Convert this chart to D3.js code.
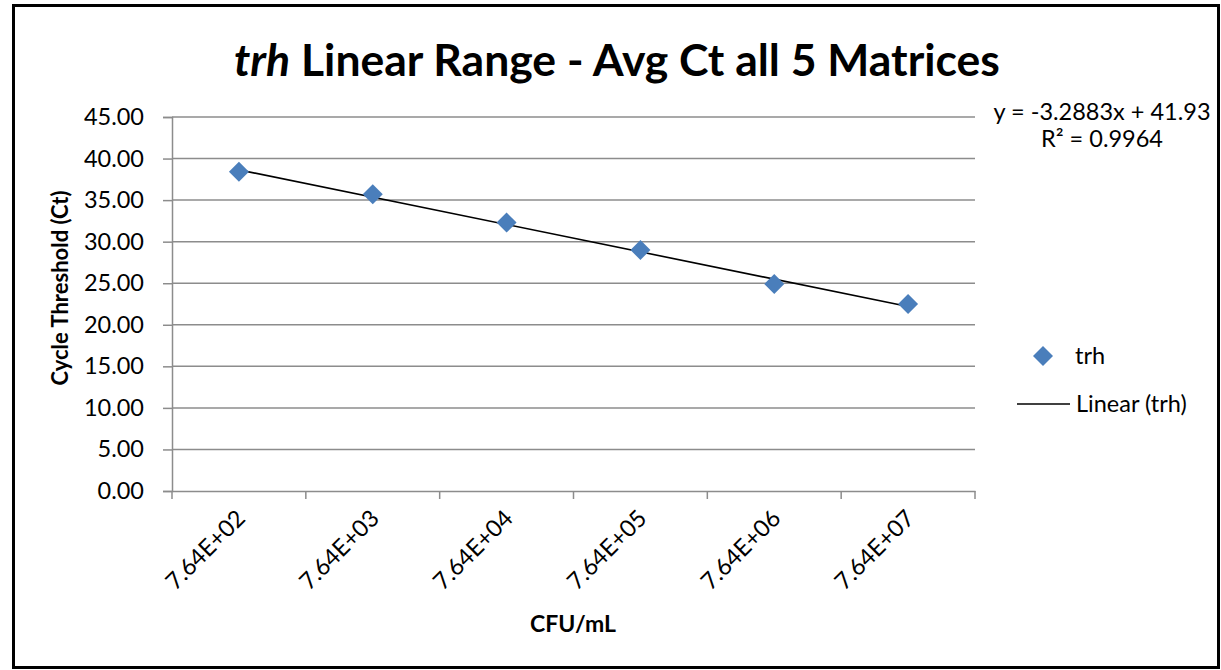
<!DOCTYPE html>
<html>
<head>
<meta charset="utf-8">
<script src="https://cdn.jsdelivr.net/npm/d3@7"></script>
<style>
  body { margin: 0; background: #fff; }
  text { font-family: Lato, "Open Sans", sans-serif; fill: #000; }
</style>
</head>
<body>
<div id="chart"></div>
<script>
// data
var categories = ['7.64E+02', '7.64E+03', '7.64E+04', '7.64E+05', '7.64E+06', '7.64E+07'];
var ctValues = [38.4, 35.7, 32.3, 29.0, 24.9, 22.5];
var yTicks = [0, 5, 10, 15, 20, 25, 30, 35, 40, 45];
// trendline as printed on the chart
var trendSlope = -3.2883;
var trendIntercept = 41.93;
var trendR2 = 0.9964;

var W = 1221, H = 670;
var plot = { left: 172, right: 975, top: 117, bottom: 491 };
var fs = 23.5;

var svg = d3.select('#chart').append('svg')
    .attr('width', W)
    .attr('height', H);

svg.append('rect')
    .attr('x', 13.5).attr('y', 5.5)
    .attr('width', 1205).attr('height', 662)
    .attr('fill', '#fff')
    .attr('stroke', '#000')
    .attr('stroke-width', 3);

var x = d3.scaleBand()
    .domain(categories)
    .range([plot.left, plot.right]);

var y = d3.scaleLinear()
    .domain([0, 45])
    .range([plot.bottom, plot.top]);

// gridlines
svg.append('g').selectAll('line')
    .data(yTicks.slice(1))
    .enter().append('line')
    .attr('x1', plot.left).attr('x2', plot.right)
    .attr('y1', function(d) { return y(d) }).attr('y2', function(d) { return y(d) })
    .attr('stroke', '#8c8c8c').attr('stroke-width', 1.5);

// y axis
var yAxis = svg.append('g')
    .attr('transform', 'translate(' + plot.left + ',0)')
    .call(d3.axisLeft(y).tickValues(yTicks).tickSize(9).tickPadding(19)
        .tickFormat(d3.format('.2f')));
yAxis.select('.domain').attr('stroke', '#8c8c8c').attr('stroke-width', 1.5);
yAxis.selectAll('.tick line').attr('stroke', '#8c8c8c').attr('stroke-width', 1.5);
yAxis.selectAll('.tick text')
    .attr('font-size', fs)
    .attr('font-family', 'Lato, sans-serif');

// x axis
var xAxis = svg.append('g')
    .attr('transform', 'translate(0,' + plot.bottom + ')')
    .call(d3.axisBottom(x).tickSize(0).tickFormat(''));
xAxis.select('.domain').attr('stroke', '#8c8c8c').attr('stroke-width', 1.5);
xAxis.selectAll('.tick').remove();

var bounds = categories.map(function(c) { return x(c) }).concat([plot.right]);
svg.append('g').selectAll('line')
    .data(bounds)
    .enter().append('line')
    .attr('x1', function(d) { return d }).attr('x2', function(d) { return d })
    .attr('y1', plot.bottom).attr('y2', plot.bottom + 8)
    .attr('stroke', '#8c8c8c').attr('stroke-width', 1.5);

svg.append('g').selectAll('text')
    .data(categories)
    .enter().append('text')
    .attr('transform', function(d) {
        return 'translate(' + (x(d) + x.bandwidth() / 2 + 2) + ',' + (plot.bottom + 23) + ') rotate(-45)';
    })
    .attr('text-anchor', 'end')
    .attr('dy', '0.35em')
    .attr('font-size', fs)
    .text(function(d) { return d });

// trendline
var cx = function(i) { return x(categories[i]) + x.bandwidth() / 2 };
svg.append('line')
    .attr('x1', cx(0)).attr('y1', y(trendSlope * 1 + trendIntercept))
    .attr('x2', cx(categories.length - 1)).attr('y2', y(trendSlope * categories.length + trendIntercept))
    .attr('stroke', '#000').attr('stroke-width', 1.6);

// points
var diamond = d3.symbol().type(d3.symbolSquare).size(200);
svg.append('g').selectAll('path')
    .data(ctValues)
    .enter().append('path')
    .attr('d', diamond)
    .attr('transform', function(d, i) { return 'translate(' + cx(i) + ',' + y(d) + ') rotate(45)' })
    .attr('fill', '#4a7ebb');

// title
var title = svg.append('text')
    .attr('x', 617).attr('y', 76)
    .attr('text-anchor', 'middle')
    .attr('font-size', 44.5)
    .attr('font-weight', 'bold');
title.append('tspan').attr('font-style', 'italic').text('trh');
title.append('tspan').text(' Linear Range - Avg Ct all 5 Matrices');

// axis titles
svg.append('text')
    .attr('transform', 'translate(68,288) rotate(-90)')
    .attr('text-anchor', 'middle')
    .attr('font-size', 22)
    .attr('font-weight', 'bold')
    .text('Cycle Threshold (Ct)');

svg.append('text')
    .attr('x', 573).attr('y', 632)
    .attr('text-anchor', 'middle')
    .attr('font-size', 23)
    .attr('font-weight', 'bold')
    .text('CFU/mL');

// equation
svg.append('text')
    .attr('x', 1102).attr('y', 120)
    .attr('text-anchor', 'middle')
    .attr('font-size', fs)
    .text('y = ' + trendSlope + 'x + ' + trendIntercept);
svg.append('text')
    .attr('x', 1102).attr('y', 147)
    .attr('text-anchor', 'middle')
    .attr('font-size', fs)
    .text('R² = ' + trendR2);

// legend
svg.append('path')
    .attr('d', diamond)
    .attr('transform', 'translate(1043,356) rotate(45)')
    .attr('fill', '#4a7ebb');
svg.append('text')
    .attr('x', 1075).attr('y', 364)
    .attr('font-size', fs)
    .text('trh');
svg.append('line')
    .attr('x1', 1017).attr('x2', 1070)
    .attr('y1', 404).attr('y2', 404)
    .attr('stroke', '#000').attr('stroke-width', 1.6);
svg.append('text')
    .attr('x', 1076).attr('y', 412)
    .attr('font-size', fs)
    .text('Linear (trh)');
</script>
</body>
</html>
